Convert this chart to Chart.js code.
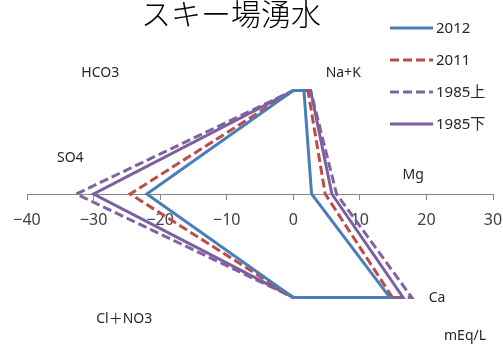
<!DOCTYPE html>
<html>
<head>
<meta charset="utf-8">
<script src="https://cdn.jsdelivr.net/npm/chart.js@4/dist/chart.umd.min.js"></script>
<style>
html,body{margin:0;padding:0;background:#fff;}
#wrap{width:503px;height:344px;position:relative;}
</style>
</head>
<body>
<div id="wrap"><canvas id="c" width="503" height="344"></canvas></div>
<script>
// ---- data (mEq/L) ----
const title = "スキー場湧水";
const ions = ["HCO3", "Na+K", "Mg", "Ca", "Cl＋NO3", "SO4"];
const seriesNames = ["2012", "2011", "1985上", "1985下"];
// values in ion order: HCO3, Na+K, Mg, Ca, Cl+NO3, SO4
const v2012  = [0, 1.6, 2.75, 14.5, 0, 22.0];
const v2011  = [0, 2.2, 4.8, 14.9, 0, 24.5];
const v1985a = [0, 2.6, 6.5, 17.8, 0, 32.6];
const v1985b = [0, 2.6, 5.8, 16.5, 0, 30.0];
const xTicks = [-40, -30, -20, -10, 0, 10, 20, 30];
const unitLabel = "mEq/L";

// Stiff polygon: anions left (negative), cations right
function stiff(v){
  return [
    {x:-v[0], y:1}, {x:v[1], y:1},
    {x:v[2], y:0},
    {x:v[3], y:-1}, {x:-v[4], y:-1},
    {x:-v[5], y:0},
    {x:-v[0], y:1}
  ];
}

const styles = [
  {color:"#4A7EBB", dash:[]},
  {color:"#BE4B48", dash:[9,4]},
  {color:"#8064A2", dash:[9,4]},
  {color:"#7D5FA0", dash:[]}
];
const values = [v2012, v2011, v1985a, v1985b];
const datasets = seriesNames.map((n,i)=>({
  label:n,
  data:stiff(values[i]),
  showLine:true,
  borderColor:styles[i].color,
  backgroundColor:styles[i].color,
  borderDash:styles[i].dash,
  borderWidth:3,
  pointRadius:0,
  tension:0,
  fill:false
}));
datasets[0].order = 0; datasets[1].order = 1; datasets[2].order = 3; datasets[3].order = 2;

// label positions in data coordinates
const labelPos = [
  {x:-29, y:1.17},   // HCO3
  {x:7.5, y:1.17},   // Na+K
  {x:18, y:0.18},    // Mg
  {x:21.6, y:-1.01}, // Ca
  {x:-25.4, y:-1.21},// Cl+NO3
  {x:-33.5, y:0.35}  // SO4
];

const extras = {
  id:"extras",
  afterDraw(chart){
    const ctx = chart.ctx, xs = chart.scales.x, ys = chart.scales.y;
    ctx.save();
    // title
    ctx.fillStyle = "#000";
    ctx.font = "300 30px 'Noto Sans CJK JP'";
    ctx.textAlign = "center"; ctx.textBaseline = "middle";
    ctx.fillText(title, 231, 14);
    // ion labels
    ctx.fillStyle = "#262626";
    ctx.font = "14px 'Noto Sans', 'Noto Sans CJK JP'";
    ions.forEach((t,i)=>{
      ctx.fillText(t, xs.getPixelForValue(labelPos[i].x), ys.getPixelForValue(labelPos[i].y));
    });
    ctx.fillText(unitLabel, xs.getPixelForValue(25.8), ys.getPixelForValue(-1.37));
    // legend
    ctx.font = "15px 'Noto Sans', 'Noto Sans CJK JP'";
    ctx.textAlign = "left";
    chart.data.datasets.forEach((ds,i)=>{
      const y = 28 + i*32;
      ctx.strokeStyle = ds.borderColor;
      ctx.lineWidth = 3;
      ctx.setLineDash(ds.borderDash);
      ctx.beginPath(); ctx.moveTo(390,y); ctx.lineTo(433,y); ctx.stroke();
      ctx.setLineDash([]);
      ctx.fillStyle = "#262626";
      ctx.fillText(ds.label, 436, y+1);
    });
    ctx.restore();
  }
};

new Chart(document.getElementById("c"), {
  type:"scatter",
  data:{datasets},
  plugins:[extras],
  options:{
    responsive:false,
    animation:false,
    layout:{autoPadding:false, padding:{left:27, right:10, top:44, bottom:0}},
    plugins:{legend:{display:false}, title:{display:false}, tooltip:{enabled:false}},
    scales:{
      x:{
        type:"linear",
        min:-40, max:30,
        position:{y:0},
        afterBuildTicks(s){ s.ticks = xTicks.map(v=>({value:v})); },
        afterFit(s){ s.paddingLeft = 0; s.paddingRight = 0; },
        grid:{display:true, drawOnChartArea:false, drawTicks:true, tickLength:5, color:"#868686"},
        border:{display:true, color:"#868686", width:1},
        ticks:{
          color:"#404040",
          font:{size:16, family:"'Noto Sans'"},
          padding:12,
          maxRotation:0,
          callback:(v)=> String(v).replace("-", "\u2212")
        }
      },
      y:{
        type:"linear",
        min:-1.45, max:1.45,
        display:false
      }
    }
  }
});
</script>
</body>
</html>
